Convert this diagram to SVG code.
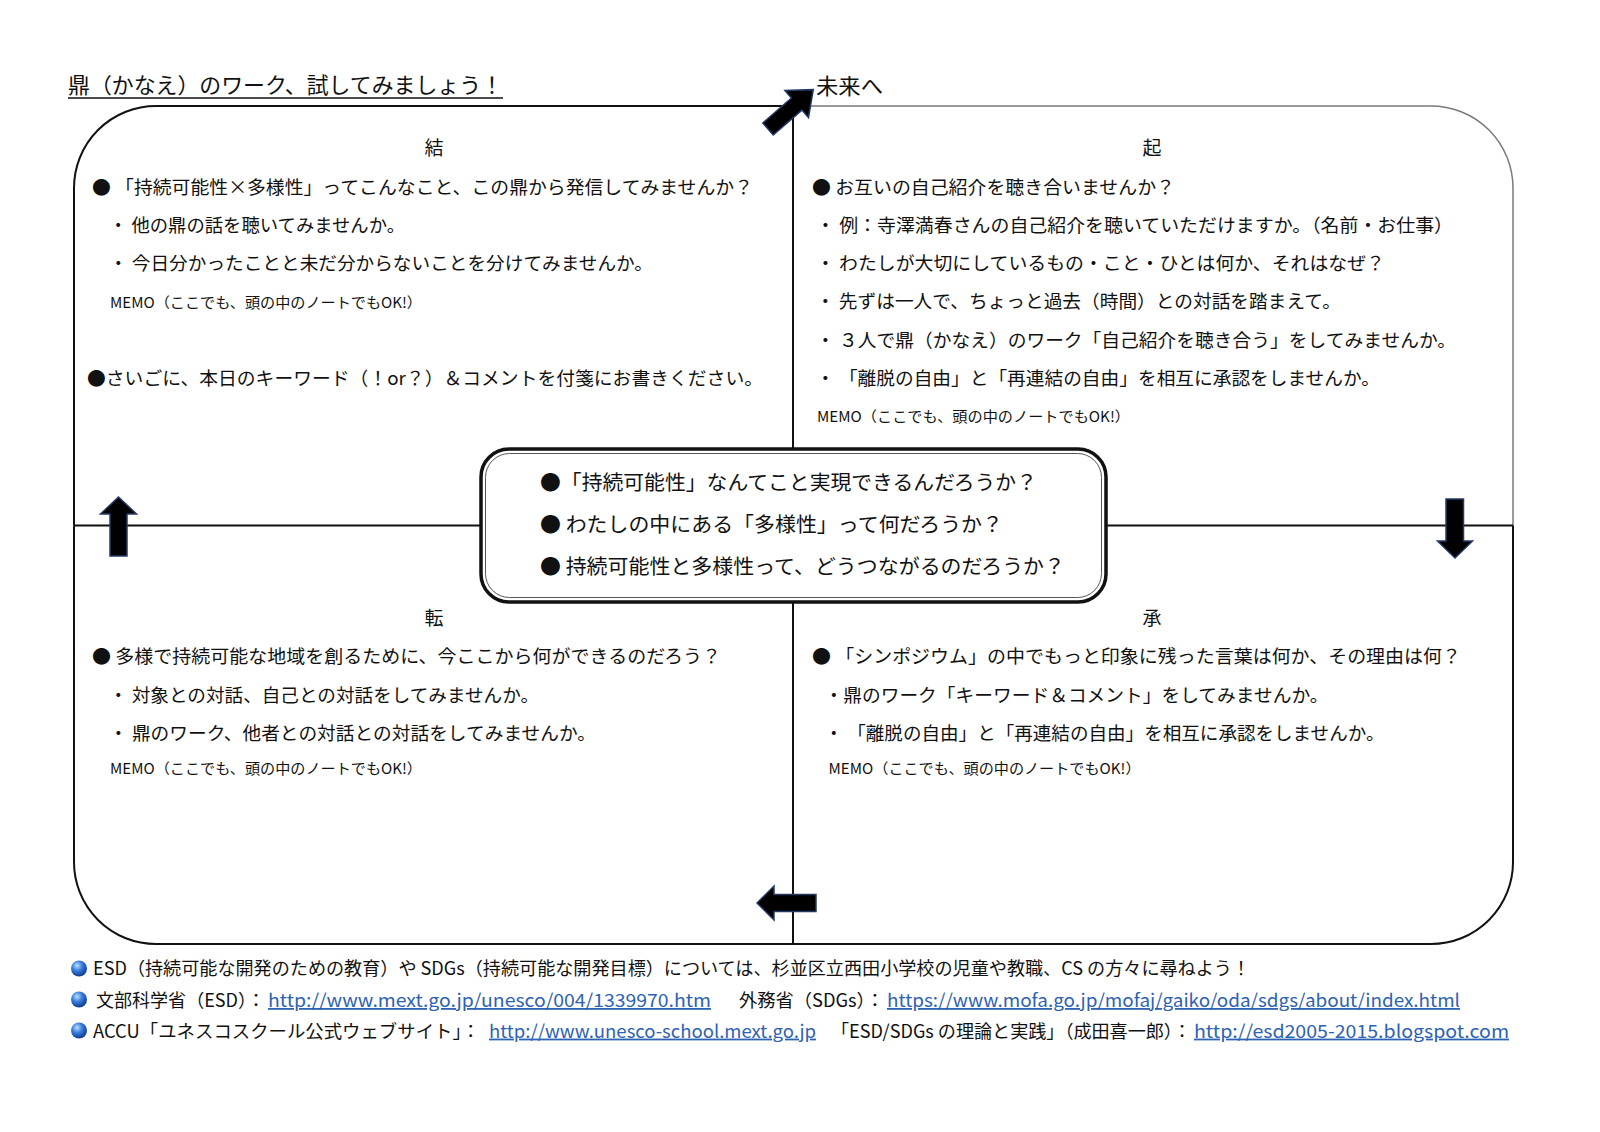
<svg xmlns="http://www.w3.org/2000/svg" width="1600" height="1132" viewBox="0 0 1600 1132">
<style>
text{font-family:"Noto Sans CJK JP","Noto Sans",sans-serif;fill:#111}
.b{font-size:18.5px}
.m{font-size:14.5px}
.h{font-size:19px}
.c{font-size:20.5px}
.f{font-size:18px}
.lk{fill:#2d62b5;text-decoration:underline}
.q{fill:none;stroke:#111;stroke-width:2}
.ln{fill:none;stroke:#111;stroke-width:2}
.ar{fill:#000;stroke:#243a66;stroke-width:1.5}
</style>
<defs>
<radialGradient id="ball" cx="0.38" cy="0.32" r="0.7">
<stop offset="0" stop-color="#bfe0ff"/>
<stop offset="0.45" stop-color="#3b7fe0"/>
<stop offset="1" stop-color="#0d3a8c"/>
</radialGradient>
</defs>
<rect width="1600" height="1132" fill="#fff"/>

<g id="title">
<text x="68" y="93" style="font-size:21.5px" textLength="435" lengthAdjust="spacingAndGlyphs">鼎（かなえ）のワーク、試してみましょう！</text>
<line x1="68" y1="98" x2="503" y2="98" stroke="#111" stroke-width="1.5"/>
<text x="816" y="94" style="font-size:21.5px" textLength="67" lengthAdjust="spacingAndGlyphs">未来へ</text>
</g>

<g id="quad-ketsu">
<path class="q" d="M793,106 H156 A82,82 0 0 0 74,188 V525.5"/>
<text class="h" x="434" y="155" text-anchor="middle">結</text>
<text class="b" x="92" y="193.7" textLength="661" lengthAdjust="spacingAndGlyphs">● 「持続可能性×多様性」ってこんなこと、この鼎から発信してみませんか？</text>
<text class="b" x="109" y="231.5" textLength="296" lengthAdjust="spacingAndGlyphs">・ 他の鼎の話を聴いてみませんか。</text>
<text class="b" x="109" y="270.3" textLength="544" lengthAdjust="spacingAndGlyphs">・ 今日分かったことと未だ分からないことを分けてみませんか。</text>
<text class="m" x="110" y="307.5" textLength="312" lengthAdjust="spacingAndGlyphs">MEMO（ここでも、頭の中のノートでもOK!）</text>
<text class="b" x="87" y="384.5" textLength="676" lengthAdjust="spacingAndGlyphs">●さいごに、本日のキーワード（！or？）＆コメントを付箋にお書きください。</text>
</g>

<g id="quad-ki">
<path d="M793,106 H1431 A82,82 0 0 1 1513,188 V525.5" fill="none" stroke="#7a7a7a" stroke-width="1.5"/>
<text class="h" x="1152" y="155" text-anchor="middle">起</text>
<text class="b" x="812" y="193.7" textLength="363" lengthAdjust="spacingAndGlyphs">● お互いの自己紹介を聴き合いませんか？</text>
<text class="b" x="816" y="231.5" textLength="637" lengthAdjust="spacingAndGlyphs">・ 例：寺澤満春さんの自己紹介を聴いていただけますか。（名前・お仕事）</text>
<text class="b" x="816" y="270.3" textLength="569" lengthAdjust="spacingAndGlyphs">・ わたしが大切にしているもの・こと・ひとは何か、それはなぜ？</text>
<text class="b" x="816" y="308" textLength="525" lengthAdjust="spacingAndGlyphs">・ 先ずは一人で、ちょっと過去（時間）との対話を踏まえて。</text>
<text class="b" x="816" y="346.8" textLength="640" lengthAdjust="spacingAndGlyphs">・ ３人で鼎（かなえ）のワーク「自己紹介を聴き合う」をしてみませんか。</text>
<text class="b" x="816" y="384.5" textLength="564" lengthAdjust="spacingAndGlyphs">・ 「離脱の自由」と「再連結の自由」を相互に承認をしませんか。</text>
<text class="m" x="817" y="421.8" textLength="313" lengthAdjust="spacingAndGlyphs">MEMO（ここでも、頭の中のノートでもOK!）</text>
</g>

<g id="quad-ten">
<path class="q" d="M793,944 H156 A82,82 0 0 1 74,862 V525.5"/>
<text class="h" x="434" y="625.4" text-anchor="middle">転</text>
<text class="b" x="92" y="663" textLength="629" lengthAdjust="spacingAndGlyphs">● 多様で持続可能な地域を創るために、今ここから何ができるのだろう？</text>
<text class="b" x="109" y="702" textLength="430" lengthAdjust="spacingAndGlyphs">・ 対象との対話、自己との対話をしてみませんか。</text>
<text class="b" x="109" y="739.6" textLength="487" lengthAdjust="spacingAndGlyphs">・ 鼎のワーク、他者との対話との対話をしてみませんか。</text>
<text class="m" x="110" y="774" textLength="312" lengthAdjust="spacingAndGlyphs">MEMO（ここでも、頭の中のノートでもOK!）</text>
</g>

<g id="quad-sho">
<path class="q" d="M1513,525.5 V862 A82,82 0 0 1 1431,944 H793"/>
<text class="h" x="1152" y="625.4" text-anchor="middle">承</text>
<text class="b" x="812" y="663" textLength="649" lengthAdjust="spacingAndGlyphs">● 「シンポジウム」の中でもっと印象に残った言葉は何か、その理由は何？</text>
<text class="b" x="824.5" y="702" textLength="504" lengthAdjust="spacingAndGlyphs">・鼎のワーク「キーワード＆コメント」をしてみませんか。</text>
<text class="b" x="824.5" y="739.6" textLength="560" lengthAdjust="spacingAndGlyphs">・ 「離脱の自由」と「再連結の自由」を相互に承認をしませんか。</text>
<text class="m" x="828.6" y="774" textLength="312" lengthAdjust="spacingAndGlyphs">MEMO（ここでも、頭の中のノートでもOK!）</text>
</g>

<g id="connectors">
<path class="ln" d="M74,525.5 H481 M1106,525.5 H1513 M793,106 V449 M793,602 V944"/>
<polygon class="ar" points="118.5,497 100.5,514 110,514 110,556 127,556 127,514 136.5,514"/>
<polygon class="ar" points="1446,499 1463.5,499 1463.5,541 1472.5,541 1455,558 1437.5,541 1446,541"/>
<polygon class="ar" points="757,903 774,886 774,894.5 816,894.5 816,911.5 774,911.5 774,920"/>
<polygon class="ar" points="0,-8 38,-8 38,-18 60,0 38,18 38,8 0,8" transform="translate(768,129) rotate(-41)"/>
</g>

<g id="center">
<rect x="481" y="449" width="625" height="153" rx="28" fill="#fff" stroke="#111" stroke-width="3.5"/>
<rect x="485.5" y="453.5" width="616" height="144" rx="24" fill="none" stroke="#555" stroke-width="1"/>
<text class="c" x="540" y="489.6" textLength="497" lengthAdjust="spacingAndGlyphs">●「持続可能性」なんてこと実現できるんだろうか？</text>
<text class="c" x="540" y="532" textLength="463" lengthAdjust="spacingAndGlyphs">● わたしの中にある「多様性」って何だろうか？</text>
<text class="c" x="540" y="574" textLength="525" lengthAdjust="spacingAndGlyphs">● 持続可能性と多様性って、どうつながるのだろうか？</text>
</g>

<g id="footer">
<circle cx="79" cy="968.5" r="8" fill="url(#ball)"/>
<circle cx="79" cy="999.5" r="8" fill="url(#ball)"/>
<circle cx="79" cy="1030.5" r="8" fill="url(#ball)"/>
<text class="f" x="93" y="975.4" textLength="1157" lengthAdjust="spacingAndGlyphs">ESD（持続可能な開発のための教育）や SDGs（持続可能な開発目標）については、杉並区立西田小学校の児童や教職、CS の方々に尋ねよう！</text>
<text class="f" x="96" y="1007" textLength="169" lengthAdjust="spacingAndGlyphs">文部科学省（ESD）：</text>
<text class="f lk" x="268" y="1007" textLength="443" lengthAdjust="spacingAndGlyphs">http://www.mext.go.jp/unesco/004/1339970.htm</text>
<text class="f" x="739" y="1007" textLength="145" lengthAdjust="spacingAndGlyphs">外務省（SDGs）：</text>
<text class="f lk" x="887" y="1007" textLength="573" lengthAdjust="spacingAndGlyphs">https://www.mofa.go.jp/mofaj/gaiko/oda/sdgs/about/index.html</text>
<text class="f" x="93" y="1037.6" textLength="387" lengthAdjust="spacingAndGlyphs">ACCU「ユネスコスクール公式ウェブサイト」：</text>
<text class="f lk" x="489" y="1037.6" textLength="327" lengthAdjust="spacingAndGlyphs">http://www.unesco-school.mext.go.jp</text>
<text class="f" x="831" y="1037.6" textLength="360" lengthAdjust="spacingAndGlyphs">「ESD/SDGs の理論と実践」（成田喜一郎）：</text>
<text class="f lk" x="1194" y="1037.6" textLength="315" lengthAdjust="spacingAndGlyphs">http://esd2005-2015.blogspot.com</text>
</g>
</svg>
